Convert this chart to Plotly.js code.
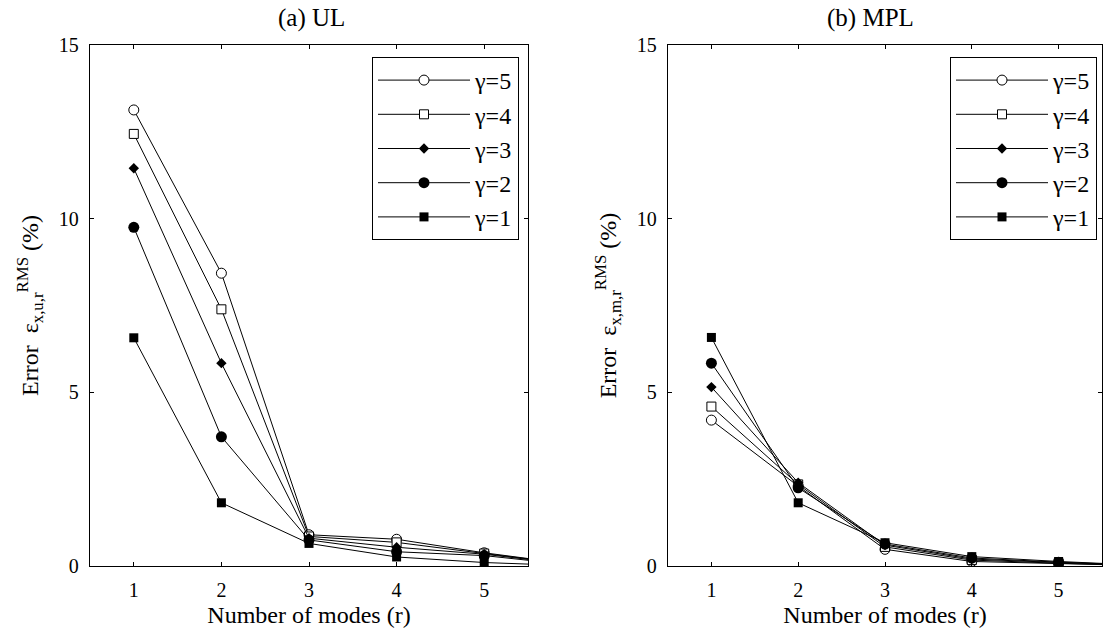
<!DOCTYPE html>
<html>
<head>
<meta charset="utf-8">
<script src="https://cdn.plot.ly/plotly-3.0.1.min.js"></script>
<style>html,body{margin:0;padding:0;background:#fff;}#chart{width:1105px;height:630px;}</style>
</head>
<body>
<div id="chart"></div>
<script>
// Number of modes r (x=6 lies beyond the visible axis range and is clipped)
const modes = [1, 2, 3, 4, 5, 6];
const seriesNames = ['γ=5', 'γ=4', 'γ=3', 'γ=2', 'γ=1'];

// (a) UL  — error (%)
const ul_g5 = [13.13, 8.43, 0.90, 0.77, 0.38, 0.05];
const ul_g4 = [12.44, 7.39, 0.85, 0.68, 0.36, 0.05];
const ul_g3 = [11.45, 5.84, 0.80, 0.54, 0.34, 0.04];
const ul_g2 = [9.75, 3.72, 0.75, 0.41, 0.30, 0.03];
const ul_g1 = [6.57, 1.82, 0.65, 0.26, 0.10, 0.01];

// (b) MPL — error (%)
const mpl_g5 = [4.20, 2.30, 0.48, 0.13, 0.07, 0.01];
const mpl_g4 = [4.59, 2.35, 0.55, 0.17, 0.08, 0.01];
const mpl_g3 = [5.15, 2.40, 0.60, 0.20, 0.10, 0.02];
const mpl_g2 = [5.84, 2.25, 0.63, 0.23, 0.11, 0.02];
const mpl_g1 = [6.58, 1.82, 0.67, 0.27, 0.13, 0.02];

const xTicks = [1, 2, 3, 4, 5];
const yTicks = [0, 5, 10, 15];

const FONT = 'Liberation Serif, Times New Roman, serif';
const markerStyles = [
  {symbol: 'circle', size: 10, color: '#fff', line: {color: '#000', width: 1}},
  {symbol: 'square', size: 9, color: '#fff', line: {color: '#000', width: 1}},
  {symbol: 'diamond', size: 8, color: '#000', line: {color: '#000', width: 0}},
  {symbol: 'circle', size: 11, color: '#000', line: {color: '#000', width: 0}},
  {symbol: 'square', size: 9, color: '#000', line: {color: '#000', width: 0}}
];

const ulSeries = [ul_g5, ul_g4, ul_g3, ul_g2, ul_g1];
const mplSeries = [mpl_g5, mpl_g4, mpl_g3, mpl_g2, mpl_g1];

const traces = [];
ulSeries.forEach((ys, i) => traces.push({
  x: modes, y: ys, name: seriesNames[i], type: 'scatter', mode: 'lines+markers',
  xaxis: 'x', yaxis: 'y', legend: 'legend',
  line: {color: '#000', width: 1}, marker: markerStyles[i]
}));
mplSeries.forEach((ys, i) => traces.push({
  x: modes, y: ys, name: seriesNames[i], type: 'scatter', mode: 'lines+markers',
  xaxis: 'x2', yaxis: 'y2', legend: 'legend2',
  line: {color: '#000', width: 1}, marker: markerStyles[i]
}));

const W = 1105, H = 630;
const yDom = [1 - 566 / H, 1 - 45 / H];

function xAxis(dom, anchor) {
  return {
    domain: dom, anchor: anchor, range: [0.5, 5.5], tickvals: xTicks,
    ticks: 'inside', ticklen: 4, tickcolor: '#000', showline: true, linecolor: '#000', linewidth: 1.3,
    mirror: 'allticks', showgrid: false, zeroline: false,
    tickfont: {family: FONT, size: 20, color: '#000'}, ticklabelstandoff: 6,
    title: {text: 'Number of modes (r)', font: {family: FONT, size: 24, color: '#000'}, standoff: 6}
  };
}
function yAxis(dom, anchor, title) {
  return {
    domain: dom, anchor: anchor, range: [0, 15], tickvals: yTicks,
    ticks: 'inside', ticklen: 4, tickcolor: '#000', showline: true, linecolor: '#000', linewidth: 1.3,
    mirror: 'allticks', showgrid: false, zeroline: false,
    tickfont: {family: FONT, size: 20, color: '#000'}, ticklabelstandoff: 6,
    title: {text: title, font: {family: FONT, size: 24, color: '#000'}, standoff: 13}
  };
}

const legendBase = {
  bordercolor: '#000', borderwidth: 1, bgcolor: '#fff',
  font: {family: FONT, size: 24, color: '#000'},
  itemwidth: 92, xanchor: 'left', yanchor: 'top', tracegroupgap: 0
};

const layout = {
  width: W, height: H,
  margin: {l: 0, r: 0, t: 0, b: 0},
  font: {family: FONT, color: '#000'},
  paper_bgcolor: '#fff', plot_bgcolor: '#fff',
  showlegend: true,
  xaxis: xAxis([90 / W, 528 / W], 'y'),
  yaxis: yAxis(yDom, 'x', 'Error  ε<sub>x,u,r</sub><sup>RMS</sup> (%)'),
  xaxis2: xAxis([668 / W, 1102 / W], 'y2'),
  yaxis2: yAxis(yDom, 'x2', 'Error  ε<sub>x,m,r</sub><sup>RMS</sup> (%)'),
  legend: Object.assign({}, legendBase, {x: 372 / W, y: 1 - 57 / H}),
  legend2: Object.assign({}, legendBase, {x: 950 / W, y: 1 - 57 / H}),
  annotations: [
    {text: '(a) UL', xref: 'paper', yref: 'paper', x: 311 / W, y: 1 - 18 / H, showarrow: false,
     xanchor: 'center', yanchor: 'middle', font: {family: FONT, size: 25, color: '#000'}},
    {text: '(b) MPL', xref: 'paper', yref: 'paper', x: 870 / W, y: 1 - 18 / H, showarrow: false,
     xanchor: 'center', yanchor: 'middle', font: {family: FONT, size: 25, color: '#000'}}
  ]
};

Plotly.newPlot('chart', traces, layout, {displayModeBar: false, staticPlot: true});
</script>
</body>
</html>
